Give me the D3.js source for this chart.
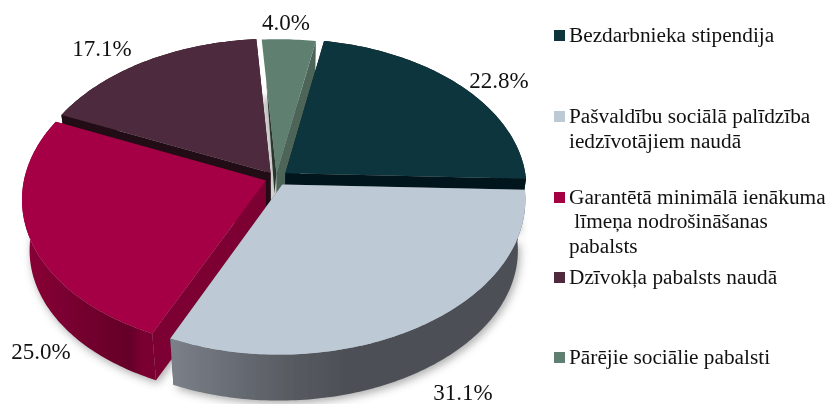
<!DOCTYPE html>
<html><head><meta charset="utf-8">
<script src="https://cdn.jsdelivr.net/npm/d3@7"></script>
<style>html,body{margin:0;padding:0;background:#fff}svg{display:block}text{font-family:"Liberation Serif",serif;fill:#111}</style>
</head><body><svg id="c" width="829" height="404"></svg>
<script>
const categories = ["Bezdarbnieka stipendija","Pašvaldību sociālā palīdzība iedzīvotājiem naudā","Garantētā minimālā ienākuma līmeņa nodrošināšanas pabalsts","Dzīvokļa pabalsts naudā","Pārējie sociālie pabalsti"];
const values = [22.8,31.1,25.0,17.1,4.0];
const valueLabels = ["22.8%","31.1%","25.0%","17.1%","4.0%"];
const topColors = ["#10343c","#bdc9d5","#a50044","#4e2a3c","#5f7f70"];
const wallColors = ["#03141a","#4d5056","#7d0030","#200c15","#4e6558"];
const legendLines = [["Bezdarbnieka stipendija"],["Pašvaldību sociālā palīdzība","iedzīvotājiem naudā"],["Garantētā minimālā ienākuma","\u00a0līmeņa nodrošināšanas","pabalsts"],["Dzīvokļa pabalsts naudā"],["Pārējie sociālie pabalsti"]];

// layout
const cx=276, cy=178, R=241, Ry=150, k=0.11, explode=[.05,.05,.045,.04,.03];
const V=[276,1887], f=0.97;
const labelPos=[[499,88],[463,400],[41,359],[102,56],[286,30]];
const legendY=[[36],[117,142],[198,222,247],[278],[358]];
const legendBox=[30,111,192,272,352];

const svg=d3.select("#c"), defs=svg.append("defs");
const pie=d3.pie().sort(null).startAngle(9.2*Math.PI/180).endAngle((360+9.2)*Math.PI/180);
const arcs=pie(values);
const project=(a,b)=>{const p=1/(1-k*b);return [cx+R*a*p-(6*b+b*b),cy+Ry*b*p+2*a];};
const drop=p=>[V[0]+(p[0]-V[0])*f,V[1]+(p[1]-V[1])*f];
const line=d3.line();

const blur=defs.append("filter").attr("id","sh").attr("x","-20%").attr("y","-20%").attr("width","140%").attr("height","140%");
blur.append("feGaussianBlur").attr("stdDeviation",4);
const soft=defs.append("filter").attr("id","soft");
soft.append("feGaussianBlur").attr("stdDeviation",0.45);
const grad=(id,stops)=>{const g=defs.append("linearGradient").attr("id",id);stops.forEach(s=>g.append("stop").attr("offset",s[0]).attr("stop-color",s[1]));};
grad("gLight",[[0,"#7b8089"],[.35,"#565a60"],[.5,"#4d5056"],[1,"#4d5056"]]);
grad("gRed",[[0,"#8a0036"],[.45,"#74002e"],[.8,"#640029"],[.9,"#7a0030"],[1,"#7a0030"]]);

const geom=arcs.map((d,i)=>{
  const mid=(d.startAngle+d.endAngle)/2;
  const ox=explode[i]*Math.sin(mid), oy=-explode[i]*Math.cos(mid);
  const pt=(r,t)=>project(ox+r*Math.sin(t),oy-r*Math.cos(t));
  const n=Math.max(8,Math.ceil((d.endAngle-d.startAngle)*60));
  const rim=d3.range(n+1).map(j=>pt(1,d.startAngle+(d.endAngle-d.startAngle)*j/n));
  return {i,apex:pt(0,0),rim};
});

const g=svg.append("g").attr("filter","url(#soft)");
g.append("g").attr("filter","url(#sh)").attr("opacity",.55).selectAll("path").data(geom).join("path")
  .attr("d",s=>line([drop(s.apex),...s.rim.map(drop)])+"Z").attr("fill","#666")
  .attr("transform","translate(2,3)");

const order=[3,4,0,2,1];
order.forEach(i=>{
  const s=geom[i], a=s.apex, rim=s.rim, sl=g.append("g");
  const wallFill = i===1?"url(#gLight)":i===2?"url(#gRed)":wallColors[i];
  const flat = i===2?"#7d0030":wallColors[i];
  if(i===4){
    // the small slice: only a thin sliver of its near wall shows beside the gap
    const e=rim[0], m=[a[0]+(e[0]-a[0])*.7,a[1]+(e[1]-a[1])*.7];
    const low=[a[0]-2,a[1]+20];
    sl.append("path").attr("d",line([a,m,low])+"Z").attr("fill","#2a352e");
    const e2=rim[rim.length-1];
    sl.append("path").attr("d",line([a,e2,drop(e2),drop(a)])+"Z").attr("fill",flat);
  } else {
    [rim[0],rim[rim.length-1]].forEach(e=>{
      sl.append("path").attr("d",line([a,e,drop(e),drop(a)])+"Z").attr("fill",flat);
    });
    sl.append("path").attr("d",line([...rim,...rim.map(drop).reverse()])+"Z").attr("fill",wallFill);
  }
  sl.append("path").attr("d",line([a,...rim])+"Z").attr("fill",topColors[i]);
});

svg.append("g").selectAll("text").data(valueLabels).join("text")
  .attr("x",(d,i)=>labelPos[i][0]).attr("y",(d,i)=>labelPos[i][1])
  .attr("text-anchor","middle").attr("font-size",23).text(d=>d);

const lg=svg.append("g");
categories.forEach((c,i)=>{
  lg.append("rect").attr("x",554).attr("y",legendBox[i]).attr("width",11).attr("height",11).attr("fill",topColors[i]);
  legendLines[i].forEach((t,j)=>{
    lg.append("text").attr("x",569).attr("y",legendY[i][j]+6).attr("font-size",21.3).text(t);
  });
});
</script></body></html>
